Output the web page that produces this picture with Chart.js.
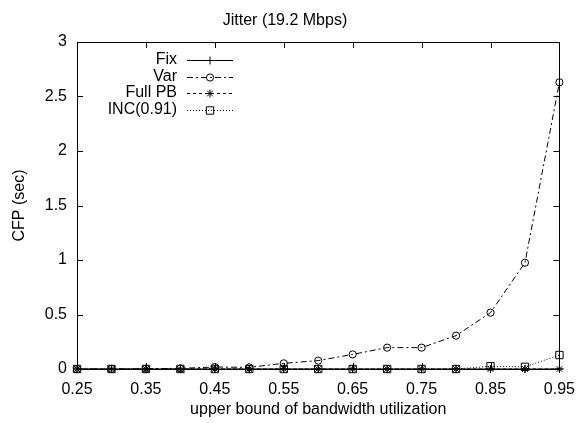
<!DOCTYPE html>
<html>
<head>
<meta charset="utf-8">
<script src="https://cdn.jsdelivr.net/npm/chart.js@4/dist/chart.umd.min.js"></script>
<style>
  html, body { margin: 0; padding: 0; background: #fff; }
  #wrap { width: 586px; height: 423px; position: relative; }
</style>
</head>
<body>
<div id="wrap"><canvas id="c" width="586" height="423"></canvas></div>
<script>
// ---- data ----
const xValues = [0.25, 0.30, 0.35, 0.40, 0.45, 0.50, 0.55, 0.60, 0.65, 0.70, 0.75, 0.80, 0.85, 0.90, 0.95];
const fixValues = [0, 0, 0, 0, 0, 0, 0, 0, 0, 0, 0, 0, 0, 0, 0];
const varValues = [0, 0.001, 0.003, 0.006, 0.018, 0.015, 0.052, 0.077, 0.134, 0.196, 0.196, 0.306, 0.517, 0.975, 2.63];
const fullPbValues = [0, 0, 0, 0, 0, 0, 0, 0, 0, 0, 0, 0, 0, 0, 0];
const incValues = [0, 0, 0, 0, 0, 0, 0, 0, 0, 0, 0, 0, 0.025, 0.02, 0.128];
const seriesNames = ['Fix', 'Var', 'Full PB', 'INC(0.91)'];
const xTickValues = [0.25, 0.35, 0.45, 0.55, 0.65, 0.75, 0.85, 0.95];
const yTickValues = [0, 0.5, 1, 1.5, 2, 2.5, 3];
const chartTitle = 'Jitter (19.2 Mbps)';
const xAxisTitle = 'upper bound of bandwidth utilization';
const yAxisTitle = 'CFP (sec)';

function pts(vals) { return xValues.map((x, i) => ({ x: x, y: vals[i] })); }

Chart.defaults.font.family = '"Liberation Sans", Arial, Helvetica, sans-serif';
Chart.defaults.font.size = 16;
Chart.defaults.color = '#000';

const styles = [
  { borderDash: [], pointStyle: 'cross', pointRadius: 4 },
  { borderDash: [6, 3, 2, 3], pointStyle: 'circle', pointRadius: 3.6 },
  { borderDash: [3, 3], pointStyle: 'star', pointRadius: 4 },
  { borderDash: [1, 2], pointStyle: 'rect', pointRadius: 5.2 }
];
const allValues = [fixValues, varValues, fullPbValues, incValues];

const datasets = seriesNames.map((name, i) => ({
  label: name,
  data: pts(allValues[i]),
  borderColor: '#000',
  backgroundColor: 'rgba(0,0,0,0)',
  pointBorderColor: '#000',
  pointBackgroundColor: 'rgba(0,0,0,0)',
  borderWidth: 1,
  pointBorderWidth: 1,
  borderDash: styles[i].borderDash,
  pointStyle: styles[i].pointStyle,
  pointRadius: styles[i].pointRadius,
  pointHoverRadius: styles[i].pointRadius,
  tension: 0,
  fill: false,
  clip: false
}));

function drawMarker(ctx, style, r, x, y) {
  ctx.save();
  ctx.setLineDash([]);
  ctx.lineWidth = 1;
  ctx.strokeStyle = '#000';
  ctx.beginPath();
  if (style === 'cross') {
    ctx.moveTo(x - r, y); ctx.lineTo(x + r, y);
    ctx.moveTo(x, y - r); ctx.lineTo(x, y + r);
  } else if (style === 'circle') {
    ctx.arc(x, y, r, 0, Math.PI * 2);
  } else if (style === 'star') {
    const d = r * Math.SQRT1_2;
    ctx.moveTo(x - r, y); ctx.lineTo(x + r, y);
    ctx.moveTo(x, y - r); ctx.lineTo(x, y + r);
    ctx.moveTo(x - d, y - d); ctx.lineTo(x + d, y + d);
    ctx.moveTo(x - d, y + d); ctx.lineTo(x + d, y - d);
  } else if (style === 'rect') {
    const s = r * Math.SQRT1_2;
    ctx.rect(x - s, y - s, 2 * s, 2 * s);
  }
  ctx.stroke();
  ctx.restore();
}

const framePlugin = {
  id: 'frame',
  beforeDatasetsDraw(chart) {
    const { ctx, chartArea: a, scales } = chart;
    ctx.save();
    ctx.strokeStyle = '#000';
    ctx.lineWidth = 1;
    ctx.setLineDash([]);
    ctx.beginPath();
    ctx.rect(Math.round(a.left) + 0.5, Math.round(a.top) + 0.5,
             Math.round(a.right - a.left), Math.round(a.bottom - a.top));
    const L = 6;
    xTickValues.forEach(v => {
      const px = Math.round(scales.x.getPixelForValue(v)) + 0.5;
      ctx.moveTo(px, a.bottom); ctx.lineTo(px, a.bottom - L);
      ctx.moveTo(px, a.top); ctx.lineTo(px, a.top + L);
    });
    yTickValues.forEach(v => {
      const py = Math.round(scales.y.getPixelForValue(v)) + 0.5;
      ctx.moveTo(a.left, py); ctx.lineTo(a.left + L, py);
      ctx.moveTo(a.right, py); ctx.lineTo(a.right - L, py);
    });
    ctx.stroke();
    ctx.restore();
  },
  afterDatasetsDraw(chart) {
    const { ctx, chartArea: a } = chart;
    ctx.save();
    ctx.font = '16px "Liberation Sans", Arial, sans-serif';
    ctx.fillStyle = '#000';
    ctx.textAlign = 'right';
    ctx.textBaseline = 'middle';
    chart.data.datasets.forEach((ds, i) => {
      const y = a.top + 18 + i * 16.5;
      const tx = a.left + 100;
      ctx.fillText(ds.label, tx, y);
      ctx.strokeStyle = '#000';
      ctx.lineWidth = 1;
      ctx.setLineDash(ds.borderDash || []);
      ctx.beginPath();
      ctx.moveTo(a.left + 110, Math.round(y) + 0.5);
      ctx.lineTo(a.left + 156, Math.round(y) + 0.5);
      ctx.stroke();
      drawMarker(ctx, ds.pointStyle, ds.pointRadius, a.left + 133, Math.round(y) + 0.5);
    });
    ctx.restore();
  }
};

new Chart(document.getElementById('c'), {
  type: 'line',
  data: { datasets: datasets },
  plugins: [framePlugin],
  options: {
    responsive: false,
    animation: false,
    devicePixelRatio: 1,
    layout: { padding: { left: 0, right: 16, top: 0, bottom: 0 } },
    plugins: {
      legend: { display: false },
      tooltip: { enabled: false },
      title: {
        display: true,
        text: chartTitle,
        color: '#000',
        font: { size: 16, weight: 'normal' },
        padding: { top: 11.4, bottom: 11.4 }
      }
    },
    scales: {
      x: {
        type: 'linear',
        min: 0.25,
        max: 0.95,
        afterBuildTicks: (s) => { s.ticks = xTickValues.map(v => ({ value: v })); },
        afterFit: (s) => { s.height = 54; },
        grid: { display: false, drawTicks: false },
        border: { display: false },
        ticks: {
          autoSkip: false,
          maxRotation: 0,
          padding: 11,
          color: '#000',
          callback: (v) => Number(v).toFixed(2)
        },
        title: {
          display: true,
          text: xAxisTitle,
          color: '#000',
          padding: { top: 2, bottom: 4 }
        }
      },
      y: {
        type: 'linear',
        min: 0,
        max: 3,
        afterBuildTicks: (s) => { s.ticks = yTickValues.map(v => ({ value: v })); },
        afterFit: (s) => { s.width = 77; },
        grid: { display: false, drawTicks: false },
        border: { display: false },
        ticks: {
          padding: 10,
          color: '#000',
          callback: (v) => String(v)
        },
        title: {
          display: true,
          text: yAxisTitle,
          color: '#000',
          padding: { top: 10.4, bottom: 0 }
        }
      }
    }
  }
});
</script>
</body>
</html>
